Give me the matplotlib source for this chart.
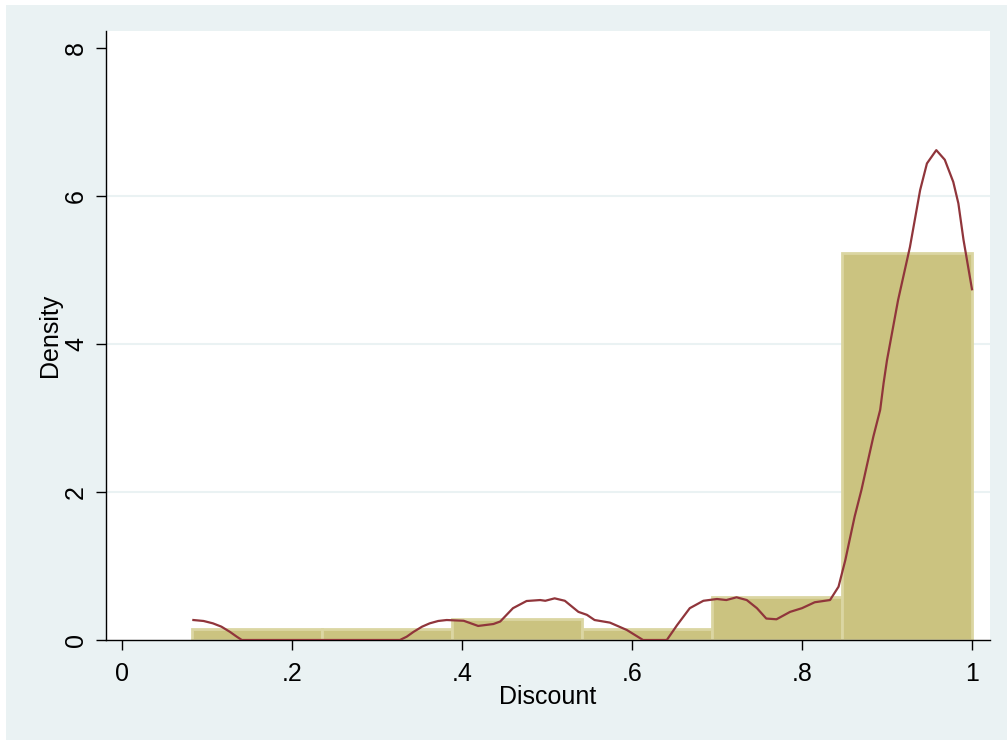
import matplotlib.pyplot as plt
import numpy as np
from matplotlib.patches import Rectangle

# histogram bins (density scale)
bin_edges = [0.0824, 0.2353, 0.3882, 0.5412, 0.6941, 0.8471, 1.0]
bin_density = [0.145, 0.145, 0.29, 0.145, 0.58, 5.23]

# kernel density curve, traced point by point
kde_x = [0.084, 0.096, 0.107, 0.117, 0.127, 0.135, 0.141, 0.327, 0.335, 0.343,
         0.353, 0.362, 0.372, 0.382, 0.402, 0.419, 0.437, 0.445, 0.460, 0.476,
         0.492, 0.498, 0.509, 0.521, 0.537, 0.547, 0.556, 0.574, 0.594, 0.613,
         0.641, 0.653, 0.668, 0.684, 0.700, 0.711, 0.723, 0.735, 0.747, 0.758,
         0.770, 0.786, 0.800, 0.815, 0.833, 0.843, 0.851, 0.856, 0.862, 0.870,
         0.876, 0.884, 0.892, 0.896, 0.900, 0.913, 0.927, 0.939, 0.947, 0.958,
         0.968, 0.978, 0.984, 0.990, 1.000]
kde_y = [0.27, 0.257, 0.225, 0.18, 0.11, 0.045, 0.0, 0.0, 0.045, 0.11,
         0.18, 0.225, 0.257, 0.27, 0.26, 0.19, 0.216, 0.25, 0.43, 0.527,
         0.54, 0.53, 0.563, 0.53, 0.38, 0.34, 0.27, 0.235, 0.135, 0.0,
         0.0, 0.2, 0.43, 0.53, 0.554, 0.54, 0.577, 0.54, 0.43, 0.29,
         0.28, 0.38, 0.43, 0.51, 0.54, 0.72, 1.08, 1.35, 1.67, 2.03,
         2.34, 2.75, 3.11, 3.47, 3.78, 4.59, 5.31, 6.08, 6.44, 6.62,
         6.49, 6.19, 5.90, 5.41, 4.74]

x_ticks = [0, 0.2, 0.4, 0.6, 0.8, 1.0]
x_ticklabels = ["0", ".2", ".4", ".6", ".8", "1"]
y_ticks = [0, 2, 4, 6, 8]

W, H = 1007, 740
FS = 18
plt.rcParams['font.family'] = ['Liberation Sans', 'DejaVu Sans']

fig = plt.figure(figsize=(W / 100, H / 100), dpi=100, facecolor='white')
# outer stata-like panel, kept behind the axes
bg = Rectangle((6 / W, 0), 1 - 6 / W, 735 / H, transform=fig.transFigure,
               facecolor='#EAF2F3', edgecolor='none', zorder=-10)
fig.add_artist(bg)

ax = fig.add_axes([106 / W, (H - 640) / H, (990 - 106) / W, (640 - 31) / H])
ax.set_facecolor('white')
ax.set_zorder(1)

widths = np.diff(bin_edges)
ax.bar(bin_edges[:-1], bin_density, width=widths, align='edge',
       color='#CBC380', edgecolor='#DBD6A2', linewidth=2, zorder=2)
ax.plot(kde_x, kde_y, color='#90353B', linewidth=1.6, zorder=3,
        solid_joinstyle='round')

ax.set_xlim(-0.0188, 1.0212)
ax.set_ylim(0, 8.23)
ax.set_xticks(x_ticks)
ax.set_xticklabels(x_ticklabels)
ax.set_yticks(y_ticks)
ax.set_yticklabels([str(v) for v in y_ticks], rotation=90, va='center')

for y in [2, 4, 6]:
    ax.axhline(y, color='#EAF2F3', linewidth=1.5, zorder=1)

for s in ['top', 'right']:
    ax.spines[s].set_visible(False)
for s in ['left', 'bottom']:
    ax.spines[s].set_linewidth(1.0)
    ax.spines[s].set_color('black')

ax.tick_params(axis='both', direction='out', length=7, width=1.0,
               labelsize=FS, colors='black')
ax.tick_params(axis='x', pad=9)
ax.tick_params(axis='y', pad=6)
ax.set_xlabel("Discount", fontsize=FS, labelpad=-1)
ax.set_ylabel("Density", fontsize=FS, labelpad=1.5)

fig.savefig('out.png', dpi=100, facecolor='white')
